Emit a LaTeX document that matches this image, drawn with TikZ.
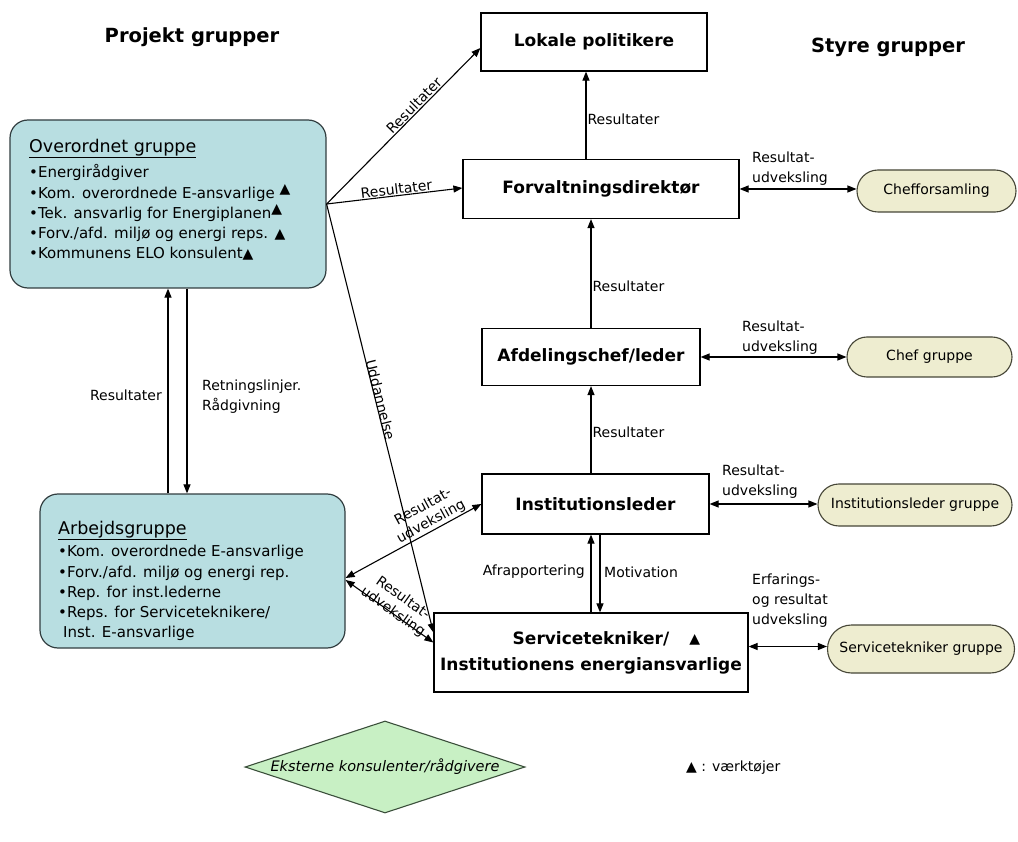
\documentclass[tikz,border=0pt]{standalone}
\usepackage{fontspec}
\setmainfont{DejaVu Sans}
\usetikzlibrary{arrows.meta,shapes.geometric,shapes.misc,calc}

\definecolor{grpblue}{RGB}{184,222,225}
\definecolor{grpedge}{RGB}{50,62,64}
\definecolor{pillfill}{RGB}{238,237,208}
\definecolor{pilledge}{RGB}{70,70,55}
\definecolor{dmdfill}{RGB}{200,240,196}
\definecolor{dmdedge}{RGB}{60,80,60}

\newcommand{\ftitle}{\fontsize{19.5}{23}\bfseries\selectfont}
\newcommand{\fhd}{\fontsize{17}{21}\bfseries\selectfont}
\newcommand{\flbl}{\fontsize{14}{20}\selectfont}
\newcommand{\fslope}{\fontsize{14}{17}\selectfont}
\newcommand{\flist}{\fontsize{15}{20.3}\selectfont}
\newcommand{\fgrp}{\fontsize{17.5}{22}\selectfont}
\newcommand{\tri}{{\fontsize{14}{14}\selectfont ▲}}

\begin{document}
\begin{tikzpicture}[x=1pt,y=-1pt,
  title/.style={font=\ftitle, inner sep=0pt},
  hbox/.style={draw, line width=1.2pt, fill=white, font=\fhd, inner sep=0pt},
  grp/.style={draw=grpedge, line width=1.2pt, fill=grpblue, rounded corners=18pt},
  pill/.style={rounded rectangle, draw=pilledge, line width=1.1pt, fill=pillfill, font=\flbl, inner sep=0pt},
  dmd/.style={diamond, aspect=3.04, draw=dmdedge, line width=1.1pt, fill=dmdfill, font=\fontsize{14.5}{17}\itshape\selectfont, inner sep=0pt},
  lbl/.style={font=\flbl, inner sep=1pt},
  slp/.style={font=\fslope, inner sep=1pt, sloped, align=center},
  conn/.style={line width=1.1pt, -{Triangle[length=9pt,width=7pt]}},
  both/.style={line width=1.1pt, {Triangle[length=9pt,width=7pt]}-{Triangle[length=9pt,width=7pt]}},
  listtxt/.style={anchor=north west, align=left, inner sep=0pt, font=\flist}
]
\fill[white] (0,0) rectangle (1018,842);
\useasboundingbox (0,0) rectangle (1018,842);

% column headings
\node[title] (projekt) at (192,37) {Projekt grupper};
\node[title] (styre) at (888,47) {Styre grupper};

% management chain
\node[hbox, minimum width=226, minimum height=58] (lok) at (594,42) {Lokale politikere};
\node[hbox, minimum width=276, minimum height=59] (forv) at (601,189) {Forvaltningsdirektør};
\node[hbox, minimum width=218, minimum height=57] (afd) at (591,357) {Afdelingschef/leder};
\node[hbox, minimum width=227, minimum height=60] (inst) at (595.5,504) {Institutionsleder};
\node[hbox, minimum width=314, minimum height=79, align=center, font=\fontsize{17}{26}\bfseries\selectfont] (serv) at (591,652.5)
  {Servicetekniker/\rlap{\hspace{20pt}\raisebox{1pt}{\fontsize{14}{14}\selectfont ▲}}\\Institutionens energiansvarlige};

% project groups
\node[grp, minimum width=316, minimum height=168] (ov) at (168,204) {};
\node[listtxt] (ovtxt) at (29,139) {{\fgrp\underline{Overordnet gruppe}}\\[5pt]
  •Energirådgiver\\
  •Kom. overordnede E-ansvarlige \raisebox{5pt}{\tri}\\
  •Tek. ansvarlig for Energiplanen\raisebox{5pt}{\tri}\\
  •Forv./afd. miljø og energi reps. \tri\\
  •Kommunens ELO konsulent\tri};

\node[grp, minimum width=305, minimum height=154] (arb) at (192.5,571) {};
\node[listtxt] (arbtxt) at (58,521) {{\fgrp\underline{Arbejdsgruppe}}\\[2pt]
  •Kom. overordnede E-ansvarlige\\
  •Forv./afd. miljø og energi rep.\\
  •Rep. for inst.lederne\\
  •Reps. for Serviceteknikere/\\
  \hspace{5pt}Inst. E-ansvarlige};

% steering groups
\node[pill, minimum width=159, minimum height=42] (chefs) at (936.5,191) {Chefforsamling};
\node[pill, minimum width=165, minimum height=40] (chefg) at (929.5,357) {Chef gruppe};
\node[pill, minimum width=194, minimum height=42] (instg) at (915,505) {Institutionsleder gruppe};
\node[pill, minimum width=187, minimum height=48] (servg) at (921,649) {Servicetekniker gruppe};

% external consultants and legend
\node[dmd, minimum width=280, minimum height=92] (ekst) at (385,767) {Eksterne konsulenter/rådgivere};
\node[font=\flbl, anchor=west, inner sep=0pt] (legend) at (686,768) {\tri\ : værktøjer};

% reporting spine
\coordinate (spinetop) at (586,0);
\coordinate (spine) at (591,0);
\coordinate (spinedown) at (600,0);
\draw[conn] (forv.north -| spinetop) -- node[lbl, right, pos=0.45] (r1) {Resultater} (lok.south -| spinetop);
\draw[conn] (afd.north -| spine) -- node[lbl, right, pos=0.38] (r2) {Resultater} (forv.south -| spine);
\draw[conn] (inst.north -| spine) -- node[lbl, right, pos=0.47] (r3) {Resultater} (afd.south -| spine);
\draw[conn] (serv.north -| spine) -- (inst.south -| spine);
\draw[conn] (inst.south -| spinedown) -- (serv.north -| spinedown);
\node[lbl, anchor=east] (lafr) at (586,572) {Afrapportering};
\node[lbl, anchor=west] (lmot) at (603,572) {Motivation};

% links from the steering group box
\draw[conn] (ov.east) -- node[slp, above, pos=0.6] (r4) {Resultater} ([yshift=-6pt]lok.west);
\draw[conn] (ov.east) -- node[slp, above, pos=0.52] (r5) {Resultater} ([yshift=1pt]forv.west);
\draw[conn] (ov.east) -- node[slp, above=-2pt, pos=0.46] (udd) {Uddannelse} ([yshift=20pt]serv.west);

% working group exchanges
\draw[both] ([yshift=-7pt]arb.east) -- node[slp, above, pos=0.66] (x1) {Resultat-\\udveksling} (inst.west);
\draw[both] ([yshift=-9pt]arb.east) -- node[slp, above=-7pt, pos=0.53] (x2) {Resultat-\\udveksling} ([yshift=10pt]serv.west);

% between the two project groups
\draw[conn] (arb.north -| ov.south) -- (ov.south);
\draw[conn] ($(ov.south)+(19,0)$) -- ($(ov.south |- arb.north)+(19,0)$);
\node[lbl, anchor=east] (lres) at (163,395) {Resultater};
\node[lbl, anchor=west, align=left] (lret) at (201,397) {Retningslinjer.\\Rådgivning};

% exchanges with the steering groups
\draw[both] (forv.east) -- (forv.east -| chefs.west);
\draw[both] (afd.east) -- (afd.east -| chefg.west);
\draw[both] (inst.east) -- (inst.east -| instg.west);
\draw[both] ([yshift=6pt]serv.east) -- ([yshift=6pt]serv.east -| servg.west);
\node[lbl, anchor=west, align=left] (lx1) at (751,169) {Resultat-\\udveksling};
\node[lbl, anchor=west, align=left] (lx2) at (741,338) {Resultat-\\udveksling};
\node[lbl, anchor=west, align=left] (lx3) at (721,482) {Resultat-\\udveksling};
\node[lbl, anchor=west, align=left] (lx4) at (751,601) {Erfarings-\\og resultat\\udveksling};
\end{tikzpicture}
\end{document}
